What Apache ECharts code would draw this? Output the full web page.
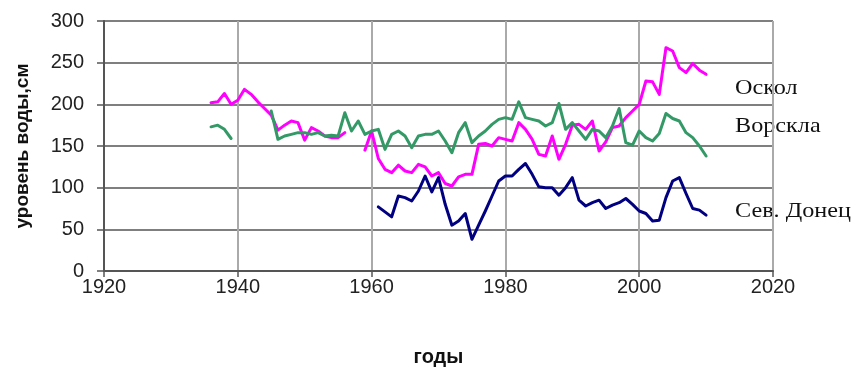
<!DOCTYPE html>
<html><head><meta charset="utf-8">
<script src="https://cdn.jsdelivr.net/npm/echarts@6/dist/echarts.min.js"></script>
<style>html,body{margin:0;padding:0;background:#fff}#c{width:864px;height:372px}</style>
</head><body><div id="c"></div>
<script>
const years = [];
for (let y = 1936; y <= 2010; y++) years.push(y);
const oskol = [202,203,213,200,205,218,212,203,195,187,169,175,180,178,157,172,168,162,160,160,166,null,null,145,168,135,122,118,127,120,118,128,125,114,118,105,102,113,116,116,152,153,150,160,158,156,178,170,158,140,138,162,134,152,175,176,170,180,144,155,172,174,184,192,200,228,227,212,268,264,244,238,249,241,236];
const vorskla = [173,175,170,159,null,null,null,null,null,192,158,162,164,166,166,164,166,162,163,162,190,168,180,164,168,170,146,164,168,162,148,162,164,164,168,156,142,166,178,154,162,168,176,182,184,182,203,184,182,180,174,178,201,170,178,168,158,170,168,160,174,195,154,151,168,160,156,165,189,183,180,166,160,150,138];
const donets = [null,null,null,null,null,null,null,null,null,null,null,null,null,null,null,null,null,null,null,null,null,null,null,null,null,77,71,65,90,88,84,96,114,95,112,80,55,60,69,38,55,72,90,108,114,114,122,129,116,101,100,100,91,100,112,85,78,82,85,75,79,82,87,80,72,69,60,61,88,108,112,93,75,73,67];
const seriesNames = ['Оскол', 'Ворскла', 'Сев. Донец'];
const yTicks = [0, 50, 100, 150, 200, 250, 300];
const xTicks = [1920, 1940, 1960, 1980, 2000, 2020];

const pairs = arr => years.map((y, i) => [y, arr[i]]);
const chart = echarts.init(document.getElementById('c'));
const lineSeries = (name, arr, color) => ({
  name, type: 'line', data: pairs(arr), showSymbol: false, symbol: 'none',
  connectNulls: false, lineStyle: { color, width: 3, cap: 'round', join: 'round' }, z: 3
});
const labelText = (text, top) => ({
  type: 'text', left: 735, top, z: -1, scaleX: 1.1, originX: 735,
  style: { text, font: '22px "Liberation Serif"', fill: '#111' }
});
chart.setOption({
  animation: false,
  grid: { left: 104, right: 91, top: 21, bottom: 99 },
  xAxis: {
    type: 'value', min: xTicks[0], max: xTicks[xTicks.length - 1], interval: 20,
    name: 'годы', nameLocation: 'middle', nameGap: 76,
    nameTextStyle: { fontFamily: 'Liberation Sans', fontWeight: 'bold', fontSize: 20, color: '#111' },
    axisLine: { show: true, lineStyle: { color: '#555', width: 2 } },
    axisTick: { show: true, inside: false, length: 6, lineStyle: { color: '#555', width: 1.5 } },
    axisLabel: { fontFamily: 'Liberation Sans', fontSize: 20, color: '#222', margin: 6,
      formatter: v => String(v) },
    splitLine: { show: true, lineStyle: { color: '#aaa', width: 2 } }
  },
  yAxis: {
    type: 'value', min: yTicks[0], max: yTicks[yTicks.length - 1], interval: 50,
    name: 'уровень воды,см', nameLocation: 'middle', nameGap: 72,
    nameTextStyle: { fontFamily: 'Liberation Sans', fontWeight: 'bold', fontSize: 19, color: '#111' },
    axisLine: { show: true, lineStyle: { color: '#555', width: 2 } },
    axisTick: { show: true, inside: false, length: 7, lineStyle: { color: '#555', width: 1.5 } },
    axisLabel: { fontFamily: 'Liberation Sans', fontSize: 20, color: '#222', margin: 20 },
    splitLine: { show: true, lineStyle: { color: '#555', width: 1.5 } }
  },
  graphic: [
    labelText(seriesNames[0], 77),
    labelText(seriesNames[1], 115),
    labelText(seriesNames[2], 200)
  ],
  series: [
    lineSeries(seriesNames[0], oskol, '#ff00ff'),
    lineSeries(seriesNames[1], vorskla, '#339966'),
    lineSeries(seriesNames[2], donets, '#000080')
  ]
});
</script></body></html>
